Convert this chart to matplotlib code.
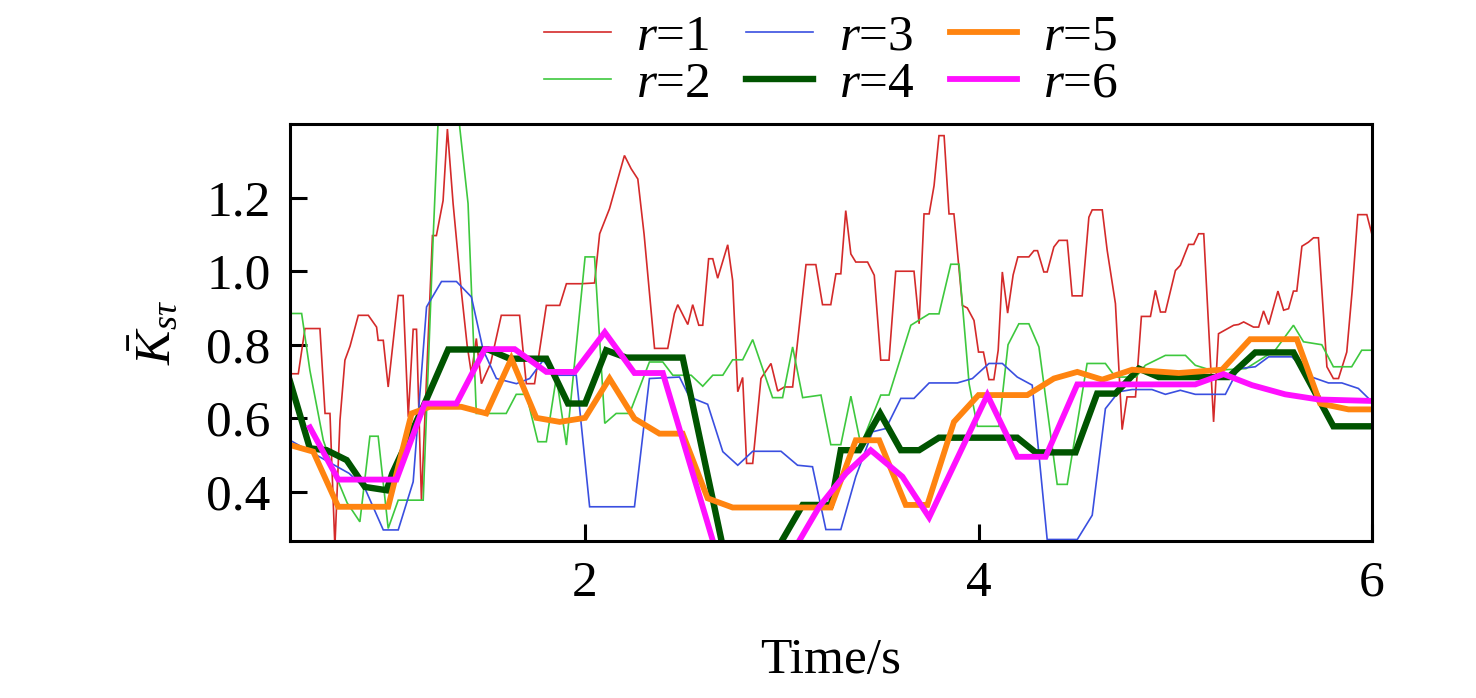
import numpy as np
import matplotlib
matplotlib.use('Agg')
import matplotlib.pyplot as plt

plt.rcParams['font.family'] = ['Liberation Serif', 'DejaVu Serif']
plt.rcParams['mathtext.fontset'] = 'custom'
plt.rcParams['mathtext.rm'] = 'Liberation Serif'
plt.rcParams['mathtext.it'] = 'Liberation Serif:italic'

# r=1
t1 = [0.50, 0.542, 0.576, 0.652, 0.678, 0.703, 0.728, 0.754, 0.779, 0.805, 0.847, 0.898,
      0.94, 0.948, 0.974, 0.999, 1.05, 1.075, 1.101, 1.126, 1.143, 1.168, 1.224, 1.244,
      1.278, 1.30, 1.329, 1.37, 1.40, 1.422, 1.447, 1.473, 1.52, 1.574, 1.667, 1.701,
      1.743, 1.803, 1.871, 1.905, 1.981, 2.048, 2.074, 2.124, 2.20, 2.234, 2.268, 2.30,
      2.353, 2.42, 2.454, 2.471, 2.522, 2.547, 2.578, 2.598, 2.628, 2.649, 2.674, 2.725,
      2.75, 2.776, 2.801, 2.821, 2.852, 2.894, 2.945, 2.979, 3.013, 3.055, 3.123, 3.173,
      3.207, 3.249, 3.275, 3.30, 3.325, 3.351, 3.376, 3.436, 3.47, 3.503, 3.545, 3.579,
      3.672, 3.698, 3.723, 3.749, 3.774, 3.799, 3.825, 3.85, 3.875, 3.918, 3.943, 3.977,
      4.0, 4.025, 4.053, 4.078, 4.10, 4.121, 4.148, 4.176, 4.20, 4.256, 4.282, 4.30,
      4.332, 4.349, 4.383, 4.409, 4.451, 4.476, 4.527, 4.561, 4.578, 4.629, 4.654, 4.696,
      4.73, 4.755, 4.798, 4.828, 4.874, 4.899, 4.925, 4.95, 5.001, 5.026, 5.068, 5.094,
      5.119, 5.145, 5.195, 5.22, 5.297, 5.322, 5.348, 5.398, 5.424, 5.449, 5.475, 5.522,
      5.551, 5.576, 5.601, 5.618, 5.644, 5.677, 5.703, 5.728, 5.771, 5.804, 5.83, 5.872,
      5.90, 5.928, 5.974, 6.0]
v1 = [0.721, 0.721, 0.844, 0.844, 0.613, 0.613, 0.25, 0.595, 0.758, 0.796, 0.88, 0.88,
      0.848, 0.812, 0.812, 0.685, 0.934, 0.934, 0.604, 0.842, 0.842, 0.377, 1.097, 1.097,
      1.192, 1.387, 1.184, 0.95, 0.80, 0.721, 0.817, 0.694, 0.75, 0.88, 0.88, 0.694,
      0.694, 0.907, 0.907, 0.966, 0.966, 0.968, 1.102, 1.17, 1.315, 1.279, 1.251, 1.10,
      0.79, 0.79, 0.885, 0.909, 0.855, 0.909, 0.853, 0.853, 1.034, 1.034, 0.981, 1.072,
      0.975, 0.672, 0.711, 0.477, 0.477, 0.708, 0.749, 0.674, 0.685, 0.685, 1.018, 1.018,
      0.909, 0.909, 0.993, 0.993, 1.165, 1.047, 1.025, 1.025, 0.989, 0.758, 0.758, 1.0,
      1.0, 0.857, 1.156, 1.156, 1.233, 1.369, 1.369, 1.156, 1.156, 0.907, 0.90, 0.866,
      0.78, 0.78, 0.705, 0.705, 0.785, 0.998, 0.886, 0.99, 1.039, 1.039, 1.056, 1.056,
      0.998, 0.998, 1.066, 1.084, 1.084, 0.933, 0.933, 1.147, 1.167, 1.167, 1.057, 0.912,
      0.569, 0.658, 0.658, 0.877, 0.877, 0.948, 0.889, 0.889, 1.002, 1.016, 1.073, 1.073,
      1.102, 1.102, 0.59, 0.83, 0.853, 0.855, 0.862, 0.848, 0.848, 0.892, 0.855, 0.946,
      0.894, 0.898, 0.946, 0.946, 1.068, 1.079, 1.091, 1.091, 0.74, 0.708, 0.708, 0.78,
      0.95, 1.154, 1.154, 1.10]

# r=2
t2 = [0.50, 0.559, 0.601, 0.669, 0.728, 0.79, 0.855, 0.906, 0.948, 0.999, 1.05, 1.177,
      1.228, 1.26, 1.35, 1.363, 1.405, 1.447, 1.599, 1.65, 1.701, 1.76, 1.803, 1.854,
      1.905, 2.0, 2.048, 2.10, 2.158, 2.226, 2.327, 2.395, 2.446, 2.539, 2.598, 2.649,
      2.70, 2.75, 2.801, 2.852, 2.953, 3.004, 3.055, 3.106, 3.199, 3.249, 3.30, 3.351,
      3.402, 3.503, 3.545, 3.656, 3.749, 3.799, 3.859, 3.901, 3.952, 3.994, 4.104, 4.150,
      4.205, 4.256, 4.307, 4.40, 4.451, 4.552, 4.645, 4.696, 4.80, 4.848, 4.95, 5.052,
      5.102, 5.187, 5.36, 5.508, 5.601, 5.652, 5.745, 5.804, 5.897, 5.948, 6.0]
v2 = [0.885, 0.885, 0.73, 0.54, 0.45, 0.37, 0.318, 0.551, 0.551, 0.30, 0.377, 0.377,
      1.097, 1.50, 1.50, 1.39, 1.184, 0.613, 0.613, 0.665, 0.665, 0.536, 0.536, 0.712,
      0.527, 1.039, 1.039, 0.586, 0.613, 0.613, 0.753, 0.753, 0.717, 0.717, 0.687, 0.717,
      0.717, 0.759, 0.759, 0.814, 0.656, 0.656, 0.794, 0.656, 0.663, 0.528, 0.528, 0.660,
      0.527, 0.663, 0.663, 0.853, 0.884, 0.884, 1.019, 1.019, 0.694, 0.578, 0.578, 0.80,
      0.857, 0.857, 0.794, 0.42, 0.42, 0.749, 0.749, 0.712, 0.712, 0.744, 0.771, 0.771,
      0.744, 0.73, 0.735, 0.785, 0.853, 0.808, 0.80, 0.74, 0.74, 0.785, 0.785]

# r=3
t3 = [0.50, 0.60, 0.70, 0.80, 0.88, 0.974, 1.05, 1.126, 1.194, 1.27, 1.346, 1.422,
      1.482, 1.549, 1.651, 1.718, 1.786, 1.854, 1.955, 2.023, 2.251, 2.327, 2.48, 2.53,
      2.623, 2.70, 2.776, 2.852, 2.996, 3.08, 3.156, 3.224, 3.30, 3.376, 3.461, 3.529,
      3.605, 3.672, 3.749, 3.892, 3.969, 4.053, 4.121, 4.197, 4.273, 4.349, 4.502, 4.578,
      4.645, 4.713, 4.781, 4.882, 4.95, 5.026, 5.102, 5.255, 5.322, 5.407, 5.475, 5.593,
      5.694, 5.779, 5.847, 5.931, 6.0]
v3 = [0.54, 0.51, 0.48, 0.45, 0.41, 0.296, 0.296, 0.427, 0.903, 0.972, 0.972, 0.930,
      0.785, 0.708, 0.694, 0.708, 0.757, 0.717, 0.717, 0.359, 0.359, 0.708, 0.712, 0.658,
      0.638, 0.509, 0.472, 0.510, 0.510, 0.472, 0.468, 0.297, 0.297, 0.441, 0.563, 0.572,
      0.654, 0.654, 0.696, 0.696, 0.708, 0.749, 0.749, 0.712, 0.690, 0.27, 0.27, 0.336,
      0.626, 0.672, 0.678, 0.678, 0.665, 0.676, 0.665, 0.665, 0.735, 0.740, 0.767, 0.767,
      0.712, 0.696, 0.696, 0.681, 0.645]

# r=4
t4 = [0.50, 0.601, 0.686, 0.788, 0.881, 0.991, 1.02, 1.177, 1.304, 1.507, 1.617, 1.803,
      1.913, 2.0, 2.107, 2.209, 2.496, 2.72, 2.95, 3.106, 3.25, 3.30, 3.393, 3.50,
      3.605, 3.698, 3.799, 4.197, 4.29, 4.493, 4.603, 4.696, 4.815, 4.916, 5.271, 5.407,
      5.601, 5.804, 6.0]
v4 = [0.70, 0.518, 0.513, 0.486, 0.413, 0.404, 0.45, 0.631, 0.787, 0.787, 0.762, 0.762,
      0.640, 0.640, 0.785, 0.765, 0.765, 0.20, 0.22, 0.364, 0.364, 0.513, 0.513, 0.613,
      0.513, 0.513, 0.547, 0.547, 0.507, 0.507, 0.667, 0.667, 0.735, 0.712, 0.712, 0.779,
      0.779, 0.578, 0.578]

# r=5
t5 = [0.50, 0.618, 0.745, 0.999, 1.118, 1.21, 1.371, 1.498, 1.625, 1.752, 1.871, 2.0,
      2.124, 2.251, 2.378, 2.496, 2.623, 2.75, 3.249, 3.376, 3.495, 3.63, 3.74, 3.875,
      4.0, 4.248, 4.383, 4.502, 4.629, 4.781, 5.018, 5.238, 5.381, 5.618, 5.737, 5.881,
      6.0]
v5 = [0.527, 0.509, 0.359, 0.359, 0.613, 0.631, 0.631, 0.613, 0.762, 0.601, 0.590, 0.601,
      0.708, 0.599, 0.558, 0.558, 0.382, 0.357, 0.357, 0.540, 0.540, 0.364, 0.364, 0.590,
      0.663, 0.663, 0.708, 0.726, 0.705, 0.732, 0.723, 0.732, 0.815, 0.815, 0.640, 0.624,
      0.624]

# r=6
t6 = [0.601, 0.745, 1.041, 1.185, 1.346, 1.49, 1.642, 1.803, 1.947, 2.10, 2.251, 2.395,
      2.72, 2.95, 3.19, 3.326, 3.452, 3.613, 3.749, 4.045, 4.197, 4.341, 4.502, 5.102,
      5.246, 5.39, 5.559, 5.728, 6.0]
v6 = [0.575, 0.433, 0.433, 0.640, 0.640, 0.788, 0.788, 0.726, 0.726, 0.834, 0.723, 0.723,
      0.14, 0.14, 0.359, 0.450, 0.513, 0.441, 0.330, 0.663, 0.495, 0.495, 0.692, 0.692,
      0.720, 0.690, 0.665, 0.651, 0.647]

series = [(t1, v1, '#d42a2a', 1.2), (t2, v2, '#3ec83e', 1.2), (t3, v3, '#3a4fe0', 1.2),
          (t4, v4, '#005400', 4.6), (t5, v5, '#ff8410', 4.2), (t6, v6, '#ff10ff', 4.2)]
labels = ['$r$=1', '$r$=2', '$r$=3', '$r$=4', '$r$=5', '$r$=6']

fig = plt.figure(figsize=(14.76, 6.98), dpi=100)
ax = fig.add_axes([0.1965, 0.225, 0.733, 0.597])

for (t, v, c, lw), lab in zip(series, labels):
    ax.plot(t, v, color=c, lw=lw, label=lab, solid_joinstyle='miter')

ax.set_xlim(0.5, 6.0)
ax.set_ylim(0.266, 1.4)
ax.set_xticks([2, 4, 6])
ax.set_yticks([0.4, 0.6, 0.8, 1.0, 1.2])
ax.set_yticklabels(['0.4', '0.6', '0.8', '1.0', '1.2'])
ax.tick_params(direction='in', length=12, width=2.2, labelsize=37)
ax.tick_params(axis='x', pad=14)
ax.tick_params(axis='y', pad=14)
for sp in ax.spines.values():
    sp.set_linewidth(2.2)

ax.set_xlabel('Time/s', fontsize=37, labelpad=22)
ax.set_ylabel(r'$\bar{K}_{s\tau}$', fontsize=37, labelpad=18)

ax.legend(loc='lower center', bbox_to_anchor=(0.5, 0.99), ncol=3, frameon=False,
          fontsize=37, handlelength=1.3, handletextpad=0.5, columnspacing=0.7,
          labelspacing=0.0, borderaxespad=0.0)

plt.savefig('out.png', dpi=100)
